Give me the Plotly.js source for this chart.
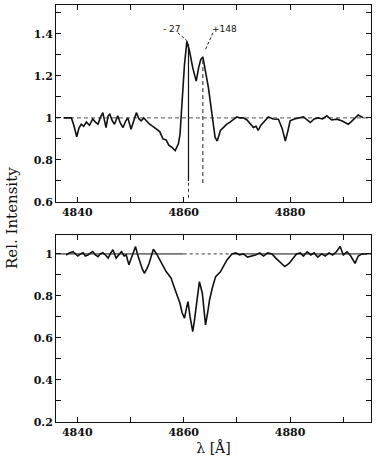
<!DOCTYPE html>
<html>
<head>
<meta charset="utf-8">
<script src="https://cdn.plot.ly/plotly-3.0.1.min.js"></script>
<style>
  body { margin: 0; background: #fff; }
  #plot { width: 379px; height: 463px; }
</style>
</head>
<body>
<div id="plot"></div>
<script>
// upper panel: observed Hbeta profile
var topWave = [4837.5, 4838.9, 4839.4, 4839.9, 4840.3, 4840.75, 4841.2, 4841.7, 4842.3, 4842.9,
  4843.4, 4843.9, 4844.3, 4844.8, 4845.4, 4845.8, 4846.1, 4846.6, 4847, 4847.6,
  4848.1, 4848.6, 4849.1, 4849.5, 4850.1, 4850.6, 4851.1, 4851.6, 4852, 4852.5,
  4853, 4853.6, 4854.2, 4854.8, 4855.5, 4856.1, 4856.7, 4857.2, 4857.8, 4858.4,
  4859.0, 4859.3, 4859.8, 4860.15, 4860.6, 4861.1, 4861.7, 4862.35, 4862.8, 4863.2,
  4863.6, 4864.1, 4864.65, 4865.3, 4865.9, 4866.3, 4866.9, 4867.5, 4868.1, 4868.7,
  4869.3, 4870, 4870.6, 4871.2, 4871.9, 4872.5, 4873.1, 4873.6, 4874, 4874.5,
  4875, 4875.9, 4876.8, 4877.8, 4878.5, 4879.1, 4879.6, 4880, 4880.8, 4881.6,
  4882.5, 4883.2, 4883.8, 4884.5, 4885.3, 4886.1, 4886.9, 4887.8, 4888.8, 4889.8,
  4890.9, 4891.4, 4891.9, 4892.8, 4893.8];
var topFlux = [1.0, 1.0, 0.96, 0.91, 0.95, 0.97, 0.96, 0.98, 0.965, 0.995,
  0.98, 0.97, 1.0, 1.025, 0.954, 1.01, 1.018, 0.985, 0.97, 1.01,
  0.975, 0.954, 0.985, 1.0, 0.946, 0.99, 1.025, 0.995, 0.986, 1.0,
  0.985, 0.97, 0.96, 0.95, 0.935, 0.9, 0.895, 0.87, 0.86, 0.844,
  0.877, 0.92, 1.096, 1.255, 1.364, 1.317, 1.238, 1.175, 1.238, 1.277,
  1.29, 1.22, 1.143, 1.02, 0.907, 0.89, 0.94, 0.955, 0.97, 0.98,
  0.99, 1.005, 1.0, 1.0, 0.99, 0.97, 0.954, 0.96, 0.94, 0.965,
  0.978, 1.005, 0.995, 0.994, 0.95, 0.89, 0.94, 0.986, 0.995, 1.0,
  1.005, 0.99, 0.978, 0.995, 1.0, 0.995, 1.01, 0.99, 0.994, 0.985,
  0.97, 0.98, 0.994, 1.014, 1.0];

// lower panel: absorption profile
var botWave = [4837.9, 4838.5, 4839.2, 4840.1, 4840.6, 4841.1, 4841.5, 4842, 4842.5, 4842.9,
  4843.4, 4843.9, 4844.3, 4844.8, 4845.3, 4845.8, 4846.2, 4846.7, 4847.3, 4847.8,
  4848.3, 4848.8, 4849.2, 4849.7, 4850.3, 4850.95, 4851.3, 4851.7, 4852.2, 4852.6,
  4853.1, 4853.5, 4854.3, 4854.9, 4855.5, 4856.1, 4856.7, 4857.2, 4857.65, 4858.1,
  4858.6, 4859.3, 4859.7, 4860.15, 4860.5, 4860.8, 4861.2, 4861.7, 4862.0, 4862.35,
  4862.95, 4863.5, 4864.1, 4864.5, 4864.85, 4865.4, 4866, 4866.9, 4867.5, 4868.1,
  4869.05, 4869.8, 4870.5, 4871.2, 4872, 4872.7, 4873.5, 4874.3, 4875, 4875.8,
  4876.6, 4877.3, 4878.2, 4879, 4879.8, 4880.5, 4881.2, 4881.9, 4882.5, 4883.2,
  4883.9, 4884.5, 4885.2, 4885.9, 4886.6, 4887.3, 4888, 4888.7, 4889.4, 4890,
  4890.7, 4891.4, 4892.2, 4892.8, 4893.5, 4894.4];
var botFlux = [0.995, 1.005, 1.011, 0.99, 1.0, 1.006, 0.99, 0.995, 1.005, 1.011,
  0.995, 0.987, 1.0, 1.006, 0.995, 0.98, 1.0, 1.02, 0.98, 0.995,
  1.011, 0.99, 0.995, 0.948, 0.99, 1.035, 1.0, 0.963, 0.93, 0.908,
  0.93, 0.956, 1.022, 1.0, 0.971, 0.945, 0.916, 0.9, 0.884, 0.85,
  0.813, 0.765, 0.72, 0.694, 0.74, 0.773, 0.70, 0.63, 0.68, 0.749,
  0.868, 0.813, 0.662, 0.72, 0.78, 0.84, 0.892, 0.915, 0.945, 0.97,
  1.0, 1.005, 0.995, 1.0, 0.985, 0.99, 0.995, 1.005, 0.99, 1.005,
  1.0, 0.98, 0.96, 0.94, 0.955, 0.975, 1.0, 1.005, 0.99, 1.01,
  0.995, 1.005, 0.985, 1.0, 0.99, 1.005, 0.995, 1.01, 1.035, 0.995,
  1.01, 0.99, 0.955, 0.99, 1.0, 1.0];

var waveRange = [4836, 4895.2];
var continuum = 1;

// velocity components marked in the upper panel
var compWave = [4860.9, 4863.6];
var compTop = [1.35, 1.29];
var compBottom = [0.70, 0.69];
var compLabels = ['- 27', '+148'];
var labelWave = [4857.8, 4867.6];
var labelFlux = 1.425;
var leaderStart = [[4858.9, 1.405], [4865.5, 1.405]];
var leaderEnd = [[4860.7, 1.365], [4864.0, 1.32]];

// where the lower continuum is dashed
var botDashFrom = 4860;
var botDashTo = 4869;

var black = '#111';
var traces = [];

// upper panel
traces.push({x: waveRange, y: [continuum, continuum], xaxis: 'x2', yaxis: 'y2', mode: 'lines',
  line: {color: '#555', width: 1, dash: '4px,3px'}, hoverinfo: 'skip'});
traces.push({x: topWave, y: topFlux, xaxis: 'x2', yaxis: 'y2', mode: 'lines',
  line: {color: black, width: 1.6}});
traces.push({x: [compWave[0], compWave[0]], y: [compBottom[0], compTop[0]], xaxis: 'x2', yaxis: 'y2',
  mode: 'lines', line: {color: black, width: 1.2}});
traces.push({x: [compWave[0], compWave[0]], y: [0.62, compBottom[0]], xaxis: 'x2', yaxis: 'y2',
  mode: 'lines', line: {color: '#333', width: 1, dash: 'dot'}});
traces.push({x: [compWave[1], compWave[1]], y: [compBottom[1], compTop[1]], xaxis: 'x2', yaxis: 'y2',
  mode: 'lines', line: {color: '#222', width: 1, dash: '4px,3px'}});
for (var i = 0; i < 2; i++) {
  traces.push({x: [leaderStart[i][0], leaderEnd[i][0]], y: [leaderStart[i][1], leaderEnd[i][1]],
    xaxis: 'x2', yaxis: 'y2', mode: 'lines', line: {color: '#222', width: 1, dash: '3px,2px'}});
}

// lower panel
traces.push({x: [waveRange[0], botDashFrom], y: [continuum, continuum], mode: 'lines',
  line: {color: black, width: 1}});
traces.push({x: [botDashFrom, botDashTo], y: [continuum, continuum], mode: 'lines',
  line: {color: '#333', width: 1, dash: '3px,3px'}});
traces.push({x: [botDashTo, waveRange[1]], y: [continuum, continuum], mode: 'lines',
  line: {color: black, width: 1}});
traces.push({x: botWave, y: botFlux, mode: 'lines', line: {color: black, width: 1.6}});

var tickFont = {family: 'DejaVu Serif', size: 11, color: black, weight: 'bold'};

function xAx(anchor) {
  return {
    anchor: anchor, range: waveRange, tick0: 4840, dtick: 20,
    ticks: 'inside', ticklen: 5, tickcolor: black, showline: true, linecolor: black,
    linewidth: 1, mirror: 'allticks', showgrid: false, zeroline: false, tickfont: tickFont,
    minor: {dtick: 10, ticks: 'inside', ticklen: 5, tickcolor: black}
  };
}
function yAx(anchor, domain, range) {
  return {
    anchor: anchor, domain: domain, range: range, tick0: 0.2, dtick: 0.2,
    ticks: 'inside', ticklen: 5, tickcolor: black, showline: true, linecolor: black,
    linewidth: 1, mirror: 'allticks', showgrid: false, zeroline: false, tickfont: tickFont,
    minor: {dtick: 0.1, ticks: 'inside', ticklen: 5, tickcolor: black}
  };
}

var xaxis = xAx('y');
xaxis.title = {text: 'λ [Å]', font: {family: 'DejaVu Serif', size: 14, color: black}, standoff: 4};

var layout = {
  width: 379, height: 463,
  margin: {l: 56, r: 8, t: 5, b: 41},
  paper_bgcolor: '#fff', plot_bgcolor: '#fff',
  showlegend: false,
  xaxis: xaxis,
  yaxis: yAx('x', [0, 0.4484], [0.2, 1.09]),
  xaxis2: xAx('y2'),
  yaxis2: yAx('x2', [0.5276, 1], [0.6, 1.537]),
  annotations: [
    {text: 'Rel. Intensity', textangle: -90, xref: 'paper', yref: 'paper', x: -0.14, y: 0.489,
      xanchor: 'center', yanchor: 'middle', showarrow: false,
      font: {family: 'DejaVu Serif', size: 15, color: black}},
    {text: compLabels[0], xref: 'x2', yref: 'y2', x: labelWave[0], y: labelFlux, showarrow: false,
      font: {family: 'DejaVu Sans', size: 9, color: black}},
    {text: compLabels[1], xref: 'x2', yref: 'y2', x: labelWave[1], y: labelFlux, showarrow: false,
      font: {family: 'DejaVu Sans', size: 9, color: black}}
  ]
};

Plotly.newPlot('plot', traces, layout, {displayModeBar: false, staticPlot: true});
</script>
</body>
</html>
